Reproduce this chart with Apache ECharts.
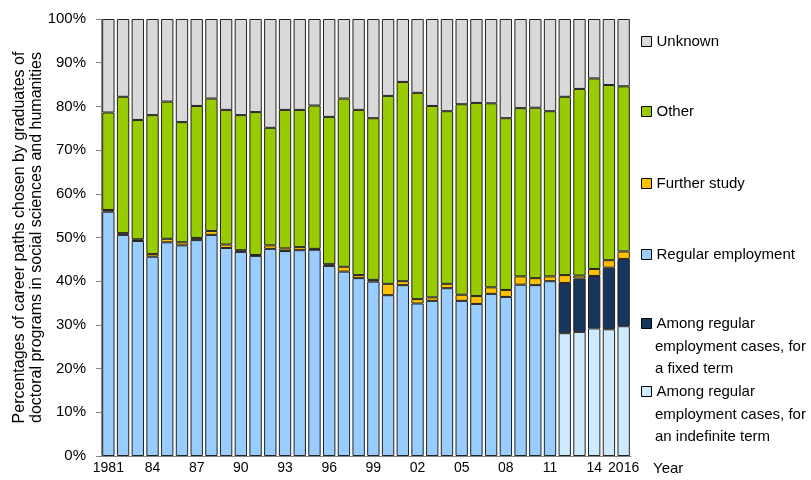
<!DOCTYPE html>
<html>
<head>
<meta charset="utf-8">
<script src="https://cdn.jsdelivr.net/npm/echarts@6/dist/echarts.min.js"></script>
<style>
  html, body { margin: 0; padding: 0; background: #fff; }
  #chart { width: 811px; height: 480px; }
</style>
</head>
<body>
<div id="chart"></div>
<script>
var years = ['1981','1982','1983','1984','1985','1986','1987','1988','1989','1990',
  '1991','1992','1993','1994','1995','1996','1997','1998','1999','2000',
  '2001','2002','2003','2004','2005','2006','2007','2008','2009','2010',
  '2011','2012','2013','2014','2015','2016'];
// short labels shown under the axis (every third year + last one)
var yearLabels = {'1981':'1981','1984':'84','1987':'87','1990':'90','1993':'93','1996':'96',
  '1999':'99','2002':'02','2005':'05','2008':'08','2011':'11','2014':'14','2016':'2016'};

// percentages
var regular = [55.9,50.6,49.2,45.6,48.9,48.2,49.4,50.6,47.6,46.7,
  45.8,47.4,46.9,47.1,47.2,43.5,42.2,40.7,39.9,36.8,
  39.1,34.9,35.5,38.4,35.5,34.8,37.1,36.4,39.2,39.1,
  40.0,null,null,null,null,null];
var indefinite = [null,null,null,null,null,null,null,null,null,null,
  null,null,null,null,null,null,null,null,null,null,
  null,null,null,null,null,null,null,null,null,null,
  null,28.1,28.4,29.2,29.0,29.7];
var fixedTerm = [null,null,null,null,null,null,null,null,null,null,
  null,null,null,null,null,null,null,null,null,null,
  null,null,null,null,null,null,null,null,null,null,
  null,11.5,12.2,12.0,14.1,15.4];
var furtherStudy = [0.4,0.4,0.4,0.6,0.8,0.7,0.5,0.9,0.8,0.4,
  0.2,0.8,0.6,0.7,0.2,0.4,1.1,0.7,0.4,2.6,
  0.9,1.0,0.8,1.0,1.4,1.8,1.5,1.6,1.9,1.6,
  1.1,1.8,0.7,1.6,1.7,1.7];
var other = [22.3,31.2,27.3,31.8,31.4,27.5,30.2,30.3,30.8,30.9,
  32.7,26.9,31.7,31.4,32.8,33.7,38.5,37.8,37.0,43.0,
  45.6,47.2,43.8,39.5,43.6,44.2,42.1,39.3,38.5,39.0,
  37.8,40.8,42.7,43.6,40.1,37.8];
var unknown = [21.4,17.8,23.1,22.0,18.9,23.6,19.9,18.2,20.8,22.0,
  21.3,24.9,20.8,20.8,19.8,22.4,18.2,20.8,22.7,17.6,
  14.4,16.9,19.9,21.1,19.5,19.2,19.3,22.7,20.4,20.3,
  21.1,17.8,16.0,13.6,15.1,15.4];

var FONT = '"Liberation Sans", Arial, sans-serif';
var NAME_FIXED = 'Among regular employment cases, for a fixed term';
var NAME_INDEF = 'Among regular employment cases, for an indefinite term';

function makeSeries(name, data, color) {
  return {
    name: name,
    type: 'bar',
    stack: 'total',
    data: data,
    barCategoryGap: '16%',
    itemStyle: { color: color, borderColor: '#222', borderWidth: 1 },
    emphasis: { disabled: true }
  };
}

function makeLegend(name, top) {
  return {
    data: [name],
    left: 641,
    top: top,
    padding: 0,
    itemWidth: 10,
    itemHeight: 10,
    itemGap: 0,
    icon: 'rect',
    selectedMode: false,
    itemStyle: { borderColor: '#000', borderWidth: 1 },
    textStyle: { fontFamily: FONT, fontSize: 15, color: '#000' },
    formatter: function (n) {
      if (n === NAME_FIXED || n === NAME_INDEF) return 'Among regular';
      return n;
    }
  };
}

var option = {
  animation: false,
  title: {
    text: '(b) Career paths chosen by graduates of doctoral programs in social sciences and humanities',
    left: 0,
    top: -15,
    padding: 0,
    textStyle: { fontFamily: FONT, fontSize: 14, fontWeight: 'bold', color: '#000', lineHeight: 16 }
  },
  grid: { left: 101, right: 180, top: 19, bottom: 24, outerBoundsMode: 'none' },
  legend: [
    makeLegend('Unknown', 34),
    makeLegend('Other', 104),
    makeLegend('Further study', 176),
    makeLegend('Regular employment', 247),
    makeLegend(NAME_FIXED, 316),
    makeLegend(NAME_INDEF, 384)
  ],
  graphic: [
    { type: 'text', left: 655, top: 336,
      style: { text: 'employment cases, for\na fixed term', font: '15px ' + FONT, fill: '#000', lineHeight: 22 } },
    { type: 'text', left: 655, top: 404,
      style: { text: 'employment cases, for\nan indefinite term', font: '15px ' + FONT, fill: '#000', lineHeight: 22 } }
  ],
  xAxis: {
    type: 'category',
    data: years,
    name: 'Year',
    nameLocation: 'end',
    nameGap: 22,
    nameTextStyle: { fontFamily: FONT, fontSize: 15, color: '#000', verticalAlign: 'top', padding: [5, 0, 0, 0] },
    axisLine: { lineStyle: { color: '#868686', width: 1 } },
    axisTick: { show: false },
    axisLabel: {
      interval: 0,
      margin: 5,
      fontFamily: FONT,
      fontSize: 14,
      color: '#000',
      formatter: function (v) { return yearLabels[v] || ''; }
    }
  },
  yAxis: {
    type: 'value',
    min: 0,
    max: 100,
    interval: 10,
    name: 'Percentages of career paths chosen by graduates of\ndoctoral programs in social sciences and humanities',
    nameLocation: 'middle',
    nameRotate: 90,
    nameGap: 56,
    nameMoveOverlap: false,
    nameTextStyle: { fontFamily: FONT, fontSize: 16, color: '#000', lineHeight: 17 },
    splitLine: { show: false },
    axisLine: { show: true, lineStyle: { color: '#868686', width: 1 } },
    axisTick: { show: true, length: 5, lineStyle: { color: '#868686' } },
    axisLabel: { formatter: '{value}%', margin: 15, fontFamily: FONT, fontSize: 15, color: '#000' }
  },
  series: [
    makeSeries(NAME_INDEF, indefinite, '#cdeaff'),
    makeSeries(NAME_FIXED, fixedTerm, '#17365d'),
    makeSeries('Regular employment', regular, '#99ccff'),
    makeSeries('Further study', furtherStudy, '#ffc000'),
    makeSeries('Other', other, '#99cc00'),
    makeSeries('Unknown', unknown, '#d9d9d9')
  ]
};

var myChart = echarts.init(document.getElementById('chart'), null, { renderer: 'canvas' });
myChart.setOption(option);
</script>
</body>
</html>
